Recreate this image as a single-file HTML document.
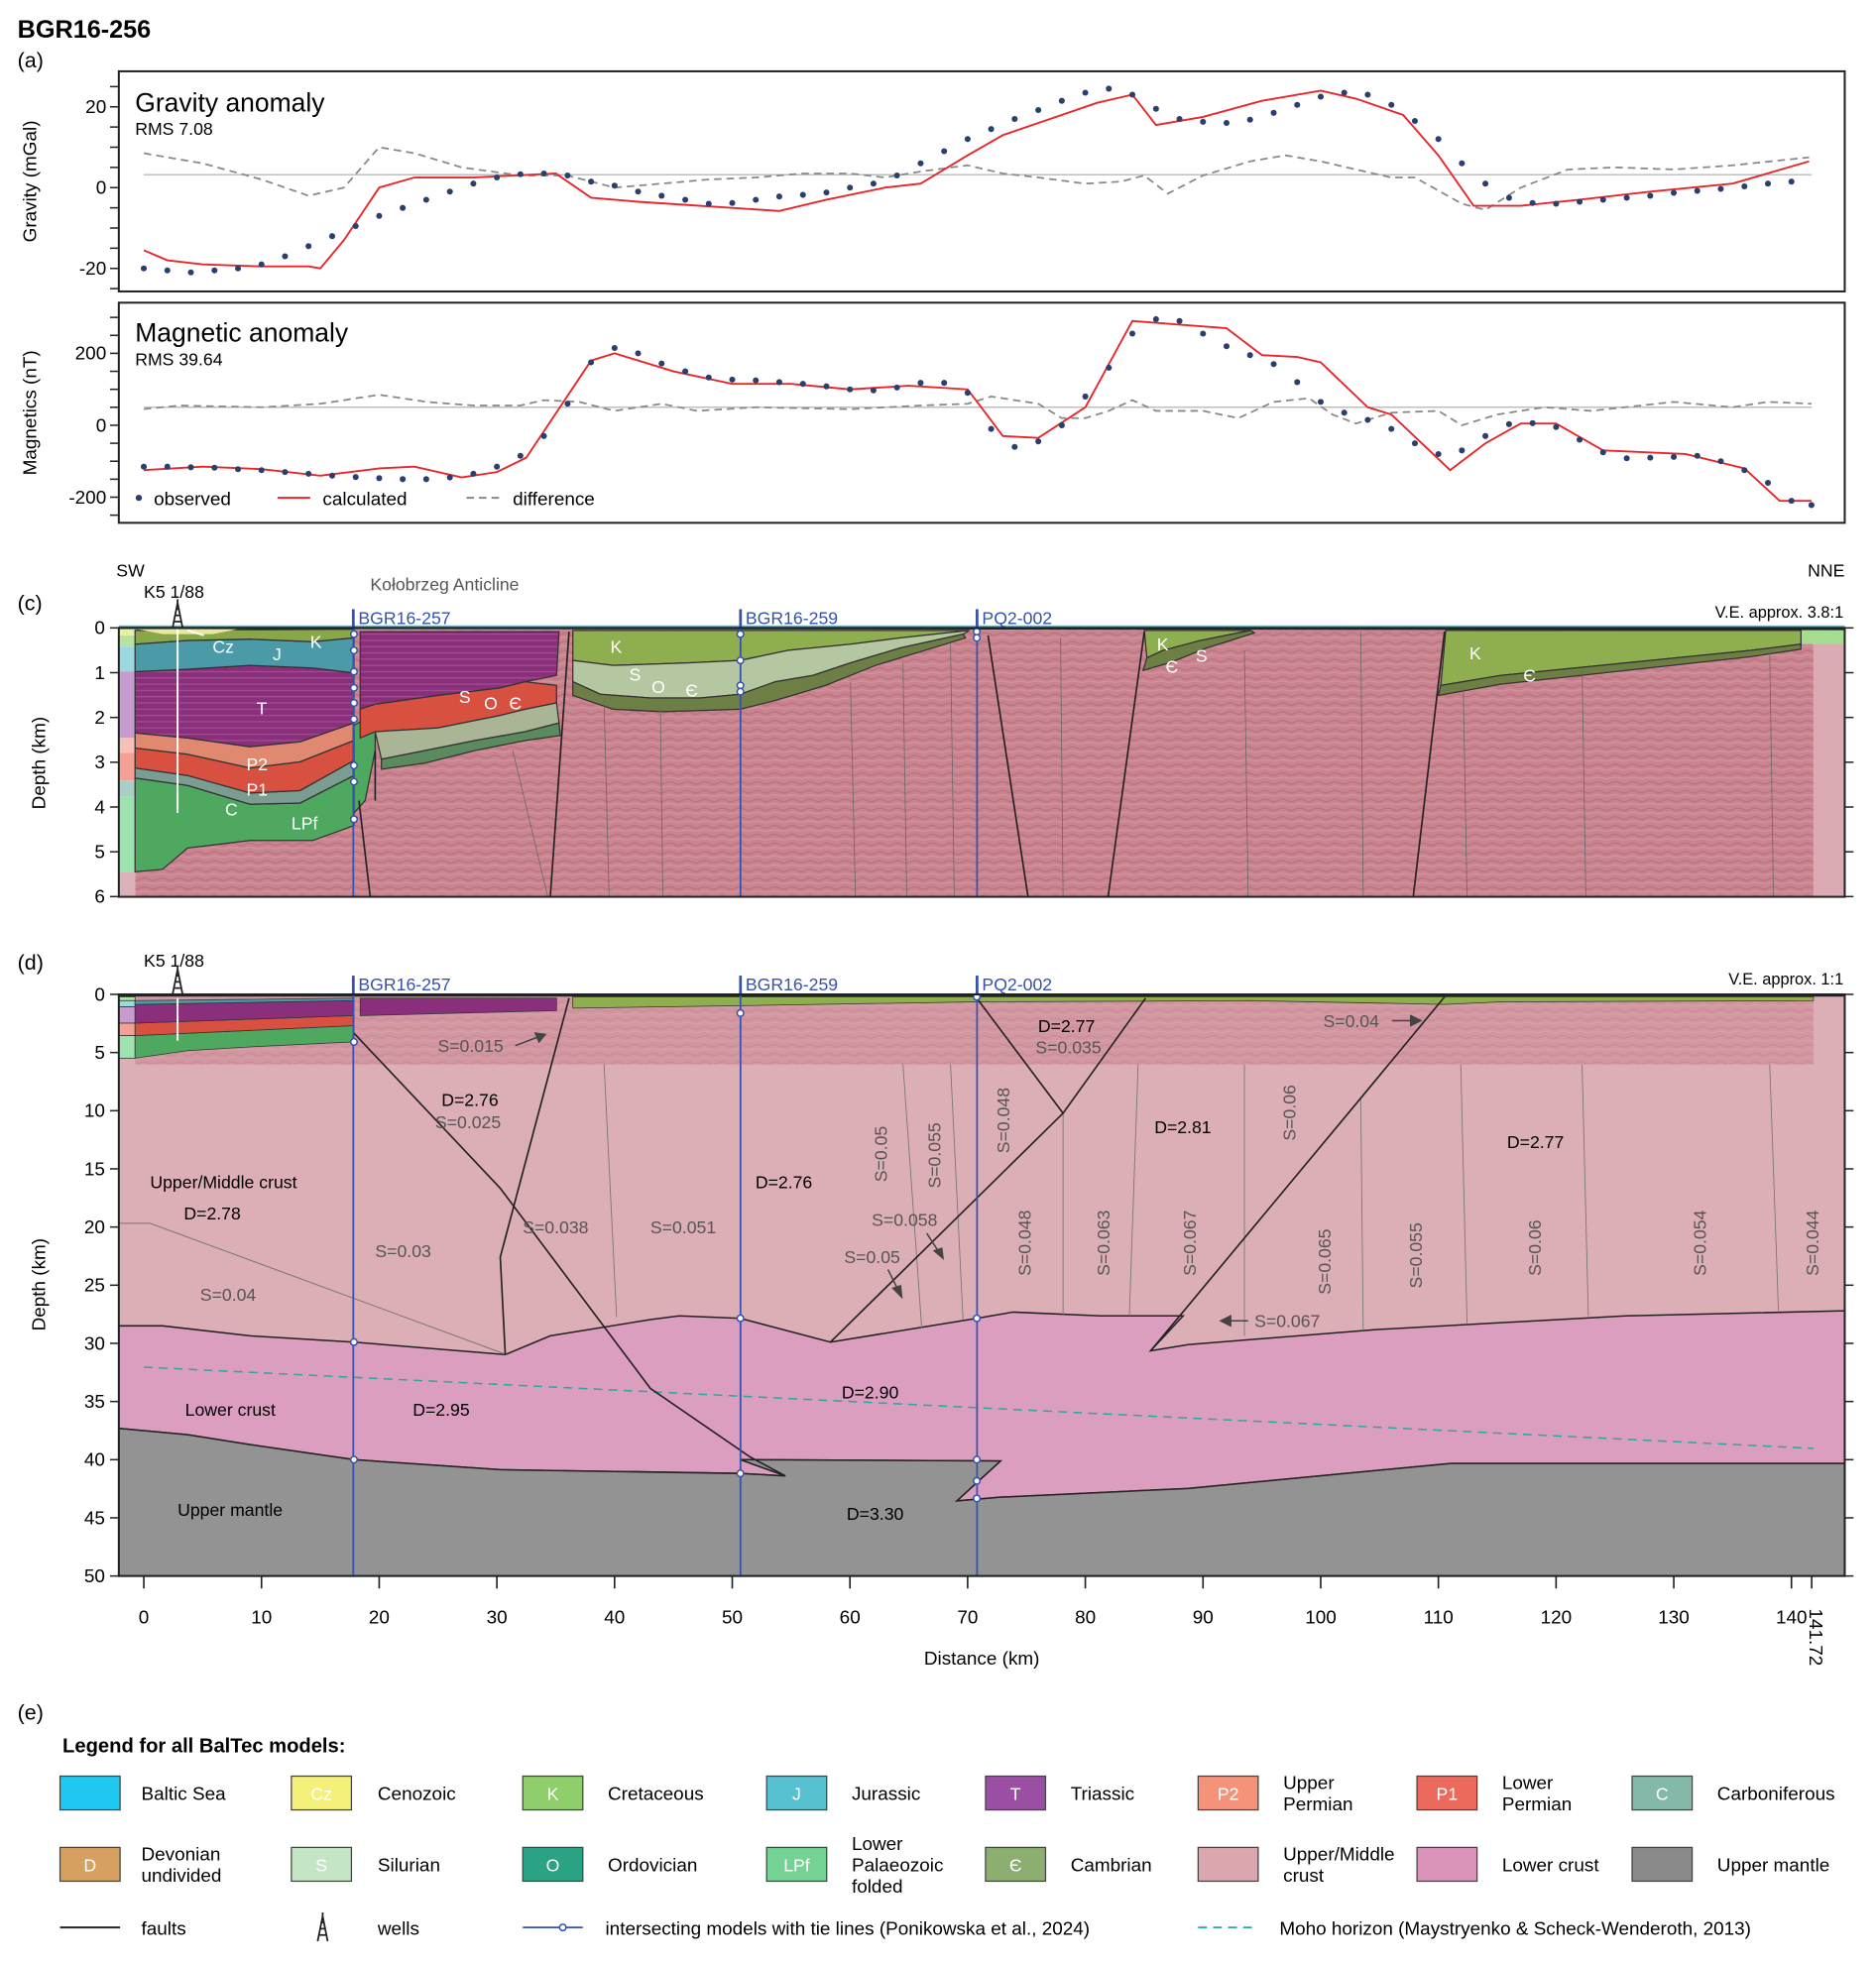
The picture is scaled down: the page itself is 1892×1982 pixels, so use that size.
<!DOCTYPE html>
<html><head><meta charset="utf-8"><title>BGR16-256 model</title>
<style>
html,body{margin:0;padding:0;background:#fff;}
svg{display:block;font-family:"Liberation Sans",Arial,sans-serif;}
</style></head>
<body>
<svg id="fig" xmlns="http://www.w3.org/2000/svg" width="1892" height="1982" viewBox="0 0 1500 1571" preserveAspectRatio="none">
<defs>
<pattern id="seis" width="14" height="7" patternUnits="userSpaceOnUse">
<rect width="14" height="7" fill="#c9848f"/>
<path d="M0 3 Q3.5 1 7 3 T14 3" stroke="#b56a78" stroke-width="1" fill="none" opacity="0.7"/>
<path d="M0 6 Q3.5 5 7 6 T14 6" stroke="#d9a3ad" stroke-width="0.8" fill="none" opacity="0.6"/>
</pattern>
<pattern id="seisT" width="10" height="5" patternUnits="userSpaceOnUse">
<rect width="10" height="5" fill="#8a2f7b"/><path d="M0 2 H10" stroke="#a34d92" stroke-width="1"/>
</pattern>
</defs>

<text x="14" y="30" font-size="20" font-weight="bold">BGR16-256</text>
<text x="14" y="54" font-size="17">(a)</text>

<g id="grav">
<rect x="95" y="57" width="1380" height="176" fill="#fff" stroke="#222" stroke-width="1.6"/>
<text x="108" y="89" font-size="21">Gravity anomaly</text>
<text x="108" y="108" font-size="14">RMS 7.08</text>
<text transform="translate(29,145) rotate(-90)" text-anchor="middle" font-size="15">Gravity (mGal)</text>
</g>
<g id="mag">
<rect x="95" y="242" width="1380" height="176" fill="#fff" stroke="#222" stroke-width="1.6"/>
<text x="108" y="273" font-size="21">Magnetic anomaly</text>
<text x="108" y="292" font-size="14">RMS 39.64</text>
<text transform="translate(29,330) rotate(-90)" text-anchor="middle" font-size="15">Magnetics (nT)</text>
<g>
<circle cx="111" cy="398" r="2.5" fill="#2b3f6e"/>
<text x="123" y="404" font-size="15">observed</text>
<line x1="222" y1="398" x2="248" y2="398" stroke="#e8262a" stroke-width="1.5"/>
<text x="258" y="404" font-size="15">calculated</text>
<line x1="373" y1="398" x2="401" y2="398" stroke="#888" stroke-width="1.5" stroke-dasharray="6,4"/>
<text x="410" y="404" font-size="15">difference</text>
</g>
</g>

<g id="secC">
<text x="14" y="488" font-size="17">(c)</text>
<text x="93" y="461" font-size="14">SW</text>
<text x="1475" y="461" font-size="14" text-anchor="end">NNE</text>
<text x="115" y="478" font-size="14">K5 1/88</text>
<text x="296" y="472" font-size="14" fill="#555">Kołobrzeg Anticline</text>
<text x="1474" y="494" font-size="13" text-anchor="end">V.E. approx. 3.8:1</text>
<rect x="108" y="502" width="1342" height="215" fill="url(#seis)"/>
<rect x="1450" y="502" width="25" height="215" fill="#dcaab2"/>
<rect x="1440" y="502" width="35" height="13" fill="#a5dc8f"/>
<rect x="95" y="500" width="1380" height="3" fill="#3fc4e6"/>
<g>
<rect x="95" y="503" width="13" height="5" fill="#e9f0a0"/><rect x="95" y="508" width="13" height="9" fill="#b5e3a0"/>
<rect x="95" y="517" width="13" height="20" fill="#9bd8e0"/><rect x="95" y="537" width="13" height="53" fill="#c69bd0"/>
<rect x="95" y="590" width="13" height="12" fill="#f8c0b5"/><rect x="95" y="602" width="13" height="22" fill="#f5a095"/>
<rect x="95" y="624" width="13" height="13" fill="#a8cfc5"/><rect x="95" y="637" width="13" height="60" fill="#9ce3b0"/>
<rect x="95" y="697" width="13" height="20" fill="#dcb0b8"/>
</g>
<g stroke="#333" stroke-width="1">
<polygon fill="#4fa860" points="108,622 150,628 200,643 240,642 283,620 283,660 250,672 200,672 150,678 130,695 108,697"/>
<polygon fill="#7b9c90" points="108,614 150,620 200,634 240,632 283,608 283,620 240,642 200,643 150,628 108,622"/>
<polygon fill="#d8503f" points="108,598 150,603 200,614 240,609 283,592 283,608 240,632 200,634 150,620 108,614"/>
<polygon fill="#e08870" points="108,586 150,590 200,597 240,593 283,578 283,592 240,609 200,614 150,603 108,598"/>
<polygon fill="url(#seisT)" points="108,537 150,535 200,532 250,534 283,538 283,578 240,593 200,597 150,590 108,586"/>
<polygon fill="#4a9aa8" points="108,515 150,512 200,511 250,513 283,510 283,538 250,534 200,532 150,535 108,537"/>
<polygon fill="#8aa64a" points="108,504 283,503 283,510 250,513 200,511 150,512 108,515"/>
<polygon fill="#e8e89a" stroke="none" points="110,503 190,503 170,507 130,507"/>
</g>
<g stroke="#333" stroke-width="1">
<polygon fill="#4fa860" points="283,580 300,570 300,600 292,640 283,650"/>
<polygon fill="url(#seisT)" points="288,505 447,505 445,540 420,545 400,550 350,556 300,563 288,567"/>
<polygon fill="#d8503f" points="288,567 300,563 350,556 400,550 420,545 445,548 445,562 420,567 400,572 350,582 300,585 288,590"/>
<polygon fill="#a9b594" points="300,585 350,582 400,572 420,567 445,562 447,578 420,585 380,592 340,600 305,607"/>
<polygon fill="#5b8a5f" points="305,607 340,600 380,592 420,585 447,578 448,588 420,592 380,600 340,610 305,615"/>
</g>
<g stroke="#333" stroke-width="1">
<polygon fill="#8fae50" points="458,504 775,504 720,510 680,515 630,520 592,528 550,530 490,532 458,528"/>
<polygon fill="#b5c7a0" points="458,528 490,532 550,530 592,528 630,520 680,515 720,510 775,504 770,507 720,518 680,530 650,540 620,545 592,555 560,558 520,558 480,555 458,545"/>
<polygon fill="#6e7f45" points="458,545 480,555 520,558 560,558 592,555 620,545 650,540 680,530 720,518 770,507 772,510 700,532 660,548 620,560 592,567 530,569 490,567 458,556"/>
<polygon fill="#8fae50" points="915,504 1000,504 960,512 930,520 917,526"/>
<polygon fill="#6e7f45" points="917,526 930,520 960,512 1000,504 1003,506 965,518 935,530 914,536"/>
<polygon fill="#8fae50" points="1156,504 1440,504 1440,515 1400,520 1300,530 1200,540 1152,548"/>
<polygon fill="#6e7f45" points="1152,548 1200,540 1300,530 1400,520 1440,515 1440,519 1400,525 1300,536 1200,547 1150,556"/>
</g>
<g stroke="#666" stroke-width="0.6">
<line x1="483" y1="560" x2="487" y2="717"/><line x1="528" y1="565" x2="530" y2="717"/><line x1="680" y1="545" x2="684" y2="717"/>
<line x1="722" y1="530" x2="725" y2="717"/><line x1="760" y1="515" x2="763" y2="717"/><line x1="848" y1="510" x2="850" y2="717"/>
<line x1="995" y1="520" x2="998" y2="717"/><line x1="1088" y1="505" x2="1090" y2="717"/><line x1="1170" y1="550" x2="1173" y2="717"/>
<line x1="1265" y1="535" x2="1268" y2="717"/><line x1="1415" y1="520" x2="1418" y2="717"/><line x1="410" y1="600" x2="438" y2="717"/>
</g>
<g stroke="#222" stroke-width="1.3" fill="none">
<line x1="287" y1="640" x2="296" y2="717"/>
<line x1="300" y1="600" x2="300" y2="640"/>
<line x1="455" y1="505" x2="440" y2="717"/>
<line x1="790" y1="508" x2="822" y2="717"/>
<line x1="915" y1="505" x2="886" y2="717"/>
<line x1="1155" y1="505" x2="1130" y2="717"/>
<line x1="95" y1="502" x2="1475" y2="503" stroke-width="1.6"/>
</g>
<g fill="#fff" font-size="14">
<text x="170" y="522">Cz</text><text x="218" y="528">J</text><text x="248" y="518">K</text><text x="205" y="571">T</text>
<text x="197" y="616">P2</text><text x="197" y="636">P1</text><text x="180" y="652">C</text><text x="233" y="663">LPf</text>
<text x="367" y="562">S</text><text x="387" y="567">O</text><text x="407" y="567">Є</text>
<text x="488" y="522">K</text><text x="503" y="544">S</text><text x="521" y="554">O</text><text x="548" y="557">Є</text>
<text x="925" y="520">K</text><text x="932" y="538">Є</text><text x="956" y="529">S</text>
<text x="1175" y="527">K</text><text x="1218" y="545">Є</text>
</g>
<path d="M163 508 L150 504" stroke="#fff" stroke-width="1.5"/>
<line x1="142" y1="503" x2="142" y2="650" stroke="#fff" stroke-width="1.5"/>
</g>

<g id="secD">
<text x="14" y="775" font-size="17">(d)</text>
<text x="115" y="773" font-size="14">K5 1/88</text>
<text x="1474" y="787" font-size="13" text-anchor="end">V.E. approx. 1:1</text>
<rect x="95" y="795" width="1380" height="465" fill="#dcaeb6"/>
<polygon fill="#dc9ebf" stroke="#222" stroke-width="1.2" points="95,1060 130,1060 200,1068 283,1073 404,1083 440,1068 520,1055 543,1052 592,1054 664,1073 781,1054 810,1049 880,1052 946,1052 920,1080 950,1075 1100,1063 1300,1052 1475,1048 1475,1170 1160,1170 950,1190 800,1197 765,1200 800,1168 592,1167 628,1180 592,1178 400,1175 283,1167 200,1155 150,1147 95,1142"/>
<polygon fill="#939393" stroke="#222" stroke-width="1.2" points="95,1142 150,1147 200,1155 283,1167 400,1175 592,1178 628,1180 592,1167 800,1168 765,1200 800,1197 950,1190 1160,1170 1475,1170 1475,1260 95,1260"/>
<rect x="108" y="797" width="1342" height="54" fill="url(#seis)" opacity="0.55"/>
<g stroke="#333" stroke-width="0.6">
<rect x="95" y="797" width="13" height="3" fill="#b5e3a0"/><rect x="95" y="800" width="13" height="5" fill="#9bd8e0"/>
<rect x="95" y="805" width="13" height="13" fill="#c69bd0"/><rect x="95" y="818" width="13" height="10" fill="#f5a095"/>
<rect x="95" y="828" width="13" height="18" fill="#9ce3b0"/>
<polygon fill="#4fa860" points="108,828 283,820 283,833 200,837 150,840 108,846"/>
<polygon fill="#d8503f" points="108,818 283,812 283,820 108,828"/>
<polygon fill="#8a2f7b" points="108,803 283,800 283,812 108,818"/>
<polygon fill="#4a9aa8" points="108,800 283,798 283,800 108,803"/>
<polygon fill="#8a2f7b" points="288,798 445,798 445,808 288,812"/>
<polygon fill="#8fae50" points="458,797 1450,797 1450,800 1200,801 1155,803 1000,800 780,801 592,804 458,806"/>
</g>
<line x1="95" y1="796" x2="1475" y2="796" stroke="#222" stroke-width="1.6"/>
<polyline points="95,978 120,978 405,1083" fill="none" stroke="#777" stroke-width="0.8"/>
<g stroke="#777" stroke-width="0.7">
<line x1="483" y1="851" x2="493" y2="1053"/><line x1="722" y1="851" x2="737" y2="1062"/><line x1="760" y1="851" x2="770" y2="1055"/>
<line x1="850" y1="890" x2="850" y2="1052"/><line x1="910" y1="851" x2="903" y2="1052"/><line x1="995" y1="851" x2="995" y2="1068"/>
<line x1="1088" y1="878" x2="1090" y2="1063"/><line x1="1168" y1="851" x2="1173" y2="1058"/><line x1="1265" y1="851" x2="1270" y2="1052"/>
<line x1="1415" y1="851" x2="1422" y2="1048"/>
</g>
<line x1="115" y1="1093" x2="1450" y2="1158" stroke="#2aa8a0" stroke-width="1.2" stroke-dasharray="7,5"/>
<g stroke="#222" stroke-width="1.3" fill="none">
<polyline points="283,826 400,950 520,1110 600,1165 628,1180"/>
<polyline points="455,798 400,1005 404,1083"/>
<polyline points="781,798 850,890 916,798"/>
<line x1="664" y1="1073" x2="850" y2="890"/>
<polyline points="920,1080 1088,878 1155,797"/>
</g>
<line x1="142" y1="798" x2="142" y2="832" stroke="#fff" stroke-width="1.5"/>
<g font-size="14">
<text x="353" y="884">D=2.76</text><text x="120" y="950">Upper/Middle crust</text><text x="147" y="975">D=2.78</text>
<text x="604" y="950">D=2.76</text><text x="830" y="825">D=2.77</text><text x="923" y="906">D=2.81</text><text x="1205" y="918">D=2.77</text>
<text x="148" y="1132">Lower crust</text><text x="330" y="1132">D=2.95</text><text x="673" y="1118">D=2.90</text>
<text x="142" y="1212">Upper mantle</text><text x="677" y="1215">D=3.30</text>
</g>
<g font-size="14" fill="#555">
<text x="350" y="841">S=0.015</text><text x="348" y="902">S=0.025</text><text x="300" y="1005">S=0.03</text>
<text x="418" y="986">S=0.038</text><text x="520" y="986">S=0.051</text><text x="160" y="1040">S=0.04</text>
<text x="828" y="842">S=0.035</text><text x="1058" y="821">S=0.04</text><text x="697" y="980">S=0.058</text>
<text x="675" y="1010">S=0.05</text><text x="1003" y="1061">S=0.067</text>
<text transform="translate(709,945) rotate(-90)">S=0.05</text>
<text transform="translate(752,950) rotate(-90)">S=0.055</text>
<text transform="translate(807,922) rotate(-90)">S=0.048</text>
<text transform="translate(824,1020) rotate(-90)">S=0.048</text>
<text transform="translate(887,1020) rotate(-90)">S=0.063</text>
<text transform="translate(956,1020) rotate(-90)">S=0.067</text>
<text transform="translate(1036,912) rotate(-90)">S=0.06</text>
<text transform="translate(1064,1035) rotate(-90)">S=0.065</text>
<text transform="translate(1137,1030) rotate(-90)">S=0.055</text>
<text transform="translate(1232,1020) rotate(-90)">S=0.06</text>
<text transform="translate(1364,1020) rotate(-90)">S=0.054</text>
<text transform="translate(1454,1020) rotate(-90)">S=0.044</text>
</g>
<g stroke="#444" stroke-width="1.2" fill="#444">
<line x1="412" y1="836" x2="433" y2="828"/><polygon points="436,827 428,826 431,833"/>
<line x1="1113" y1="816" x2="1133" y2="816"/><polygon points="1136,816 1128,812 1128,820"/>
<line x1="998" y1="1056" x2="980" y2="1056"/><polygon points="976,1056 984,1052 984,1060"/>
<line x1="741" y1="986" x2="752" y2="1003"/><polygon points="754,1006 747,1000 753,998"/>
<line x1="710" y1="1015" x2="719" y2="1033"/><polygon points="721,1037 714,1030 720,1028"/>
</g>
<text x="785" y="1331" font-size="15" text-anchor="middle">Distance (km)</text>
<text transform="translate(1447,1286) rotate(90)" font-size="15">141.72</text>
</g>

<g id="ties"></g>

<g id="legend">
<text x="14" y="1375" font-size="17">(e)</text>
<text x="50" y="1401" font-size="16" font-weight="bold">Legend for all BalTec models:</text>
</g>
<g id="axes"></g>
<g id="plots"></g>
</svg>

<script>
const gravObsDist = [0,2,4,6,8,10,12,14,16,18,20,22,24,26,28,30,32,34,36,38,40,42,44,46,48,50,52,54,56,58,60,62,64,66,68,70,72,74,76,78,80,82,84,86,88,90,92,94,96,98,100,102,104,106,108,110,112,114,116,118,120,122,124,126,128,130,132,134,136,138,140];
const gravObs = [-20,-20.5,-21,-20.5,-20,-19,-17,-14.5,-12,-9.5,-7,-5,-3,-1,1,2.5,3.3,3.5,3,1.5,0.5,-1,-2,-3,-4,-3.8,-3,-2.2,-1.8,-1.2,0,1,3,6,9,12,14.5,17,19.2,21.5,23.5,24.5,23,19.5,17,16.3,16,16.8,18.5,20.5,22.5,23.5,23,20.5,16.5,12,6,1,-2.5,-3.8,-4,-3.5,-3,-2.5,-2,-1.3,-0.8,-0.3,0.3,1,1.5];
const gravCalcDist = [0,2,5,10,14,15,17,20,23,28,35,38,42,50,54,58,63,66,70,73,77,81,84,86,90,95,100,103,107,110,113,117,122,128,135,141.5];
const gravCalc = [-15.5,-18,-19,-19.5,-19.5,-20,-13,0,2.5,2.5,3.5,-2.5,-3.5,-5,-5.8,-3,0,1,8,13,17,21,23,15.5,17.5,21.5,24,22,18,8,-4.5,-4.5,-3,-1,1,6.5];
const gravDiffDist = [0,5,10,14,17,20,23,27,32,36,40,44,48,52,56,60,63,66,70,73,76,80,83,85,87,90,94,97,100,103,106,108,112,114,117,121,125,130,135,141.5];
const gravDiff = [8.5,6,2,-2,0,10,8.5,5,3,3,0,1,2,2.5,3.5,3.5,2.5,4,5.5,3.5,2.5,1,1.5,3,-1.5,3,6.5,8,6.5,4.5,2.5,2.5,-4,-5.5,0,4.5,5,4.5,5.5,7.5];
const gravTicks = [-20,0,20];
const magObsDist = [0,2,4,6,8,10,12,14,16,18,20,22,24,26,28,30,32,34,36,38,40,42,44,46,48,50,52,54,56,58,60,62,64,66,68,70,72,74,76,78,80,82,84,86,88,90,92,94,96,98,100,102,104,106,108,110,112,114,116,118,120,122,124,126,128,130,132,134,136,138,140,141.7];
const magObs = [-115,-115,-117,-118,-122,-125,-130,-135,-140,-144,-147,-150,-150,-145,-135,-115,-85,-30,60,175,215,200,172,150,133,127,125,120,115,108,100,97,105,118,118,90,-10,-60,-45,0,80,160,255,295,290,255,220,195,170,120,65,35,15,-10,-50,-80,-70,-30,3,6,-5,-40,-75,-92,-90,-88,-85,-100,-125,-160,-210,-222];
const magCalcDist = [0,5,10,15,20,23,27,30,32.5,38,40,45,50,55,60,65,70,73,76,80,84,88,92,95,98,100,104,106,111,114,117,120,124,131,136,139,141.7];
const magCalc = [-125,-115,-122,-140,-120,-115,-145,-130,-90,180,200,150,115,115,100,110,100,-30,-35,50,290,280,270,195,190,175,50,30,-125,-50,5,5,-70,-80,-120,-210,-210];
const magDiffDist = [0,3,10,15,20,24,28,32,34,37,40,44,47,52,60,66,70,72,76,78,80,82,84,86,90,93,96,99,101,103,106,110,112,115,119,123,130,135,138,141.7];
const magDiff = [45,55,50,60,85,65,55,55,70,65,40,60,40,50,45,55,60,80,60,20,20,40,70,40,40,20,65,75,30,5,35,40,0,30,50,40,65,50,65,60];
const magTicks = [-200,0,200];
const distTicks = [0,10,20,30,40,50,60,70,80,90,100,110,120,130,140];
const depthTicksC = [0,1,2,3,4,5,6];
const depthTicksD = [0,5,10,15,20,25,30,35,40,45,50];
const tieNames = ['BGR16-257','BGR16-259','PQ2-002'];
const tieDist = [17.8,50.7,70.8];

const NS='http://www.w3.org/2000/svg';
function mk(tag, attrs, parent){const e=document.createElementNS(NS,tag);for(const k in attrs)e.setAttribute(k,attrs[k]);parent.appendChild(e);return e;}
const X = d => 115 + d*9.41;
const GY = v => 150 - v*3.23;
const MY = v => 340 - v*0.2875;
const CY = d => 502 + d*35.8;
const DY = d => 795 + d*9.3;
const plots=document.getElementById('plots'), axes=document.getElementById('axes');

function line(dist, vals, yf, attrs, name){
  const p=mk('polyline', Object.assign({points: dist.map((d,i)=>X(d).toFixed(1)+','+yf(vals[i]).toFixed(1)).join(' '), fill:'none'}, attrs), plots);
  
  
}
function dots(dist, vals, yf, name){
  dist.forEach((d,i)=>{const c=mk('circle',{cx:X(d).toFixed(1),cy:yf(vals[i]).toFixed(1),r:2.4,fill:'#2b3f6e'},plots);
    
    });
}
let r1=mk('line',{x1:X(0),x2:X(141.72),y1:GY(3.2),y2:GY(3.2),stroke:'#aaa','stroke-width':0.9},plots);


let r2=mk('line',{x1:X(0),x2:X(141.72),y1:MY(50),y2:MY(50),stroke:'#aaa','stroke-width':0.9},plots);


line(gravDiffDist, gravDiff, GY, {stroke:'#888','stroke-width':1.4,'stroke-dasharray':'6,4'}, 'gravity-difference-line');
line(gravCalcDist, gravCalc, GY, {stroke:'#e8262a','stroke-width':1.5}, 'gravity-calculated-line');
dots(gravObsDist, gravObs, GY, 'gravity-observed-point');
line(magDiffDist, magDiff, MY, {stroke:'#888','stroke-width':1.4,'stroke-dasharray':'6,4'}, 'magnetic-difference-line');
line(magCalcDist, magCalc, MY, {stroke:'#e8262a','stroke-width':1.5}, 'magnetic-calculated-line');
dots(magObsDist, magObs, MY, 'magnetic-observed-point');

for(let v=-25; v<=25; v+=5){const t=mk('line',{x1:88,x2:95,y1:GY(v),y2:GY(v),stroke:'#222','stroke-width':1.2},axes);
  
  }
gravTicks.forEach(v=>{const t=mk('text',{x:85,y:GY(v)+5,'text-anchor':'end','font-size':15},axes);t.textContent=v;
  
  });
for(let v=-250; v<=300; v+=50){const t=mk('line',{x1:88,x2:95,y1:MY(v),y2:MY(v),stroke:'#222','stroke-width':1.2},axes);
  
  }
magTicks.forEach(v=>{const t=mk('text',{x:85,y:MY(v)+5,'text-anchor':'end','font-size':15},axes);t.textContent=v;
  
  });
let ac=mk('rect',{x:95,y:502,width:1380,height:215,fill:'none',stroke:'#222','stroke-width':1.6},axes);


depthTicksC.forEach(v=>{mk('line',{x1:88,x2:95,y1:CY(v),y2:CY(v),stroke:'#222','stroke-width':1.2},axes);
  mk('line',{x1:1475,x2:1482,y1:CY(v),y2:CY(v),stroke:'#222','stroke-width':1.2},axes);
  const t=mk('text',{x:84,y:CY(v)+5,'text-anchor':'end','font-size':15},axes);t.textContent=v;
  
  });
let tc=mk('text',{transform:'translate(36,610) rotate(-90)','text-anchor':'middle','font-size':15},axes);tc.textContent='Depth (km)';


let ad=mk('rect',{x:95,y:795,width:1380,height:465,fill:'none',stroke:'#222','stroke-width':1.6},axes);


depthTicksD.forEach(v=>{mk('line',{x1:88,x2:95,y1:DY(v),y2:DY(v),stroke:'#222','stroke-width':1.2},axes);
  mk('line',{x1:1475,x2:1482,y1:DY(v),y2:DY(v),stroke:'#222','stroke-width':1.2},axes);
  const t=mk('text',{x:84,y:DY(v)+5,'text-anchor':'end','font-size':15},axes);t.textContent=v;
  
  });
let td=mk('text',{transform:'translate(36,1027) rotate(-90)','text-anchor':'middle','font-size':15},axes);td.textContent='Depth (km)';


distTicks.forEach(v=>{mk('line',{x1:X(v),x2:X(v),y1:1260,y2:1270,stroke:'#222','stroke-width':1.3},axes);
  const t=mk('text',{x:X(v),y:1298,'text-anchor':'middle','font-size':15},axes);t.textContent=v;
  
  });
mk('line',{x1:X(141.72),x2:X(141.72),y1:1260,y2:1270,stroke:'#222','stroke-width':1.3},axes);

const ties=document.getElementById('ties');
tieNames.forEach((n,i)=>{
  const x=X(tieDist[i]);
  [[502,717,487],[795,1260,780]].forEach(([a,b,top])=>{
    const l=mk('line',{x1:x,x2:x,y1:a,y2:b,stroke:'#3552b0','stroke-width':1.4},ties);
    
    
    mk('line',{x1:x,x2:x,y1:top,y2:a,stroke:'#3552b0','stroke-width':2.2},ties);
    const t=mk('text',{x:x+4,y:top+12,'font-size':14,fill:'#3552b0'},ties);t.textContent=n;
    
    
  });
});
[[283,507],[283,520],[283,537],[283,550],[283,562],[283,575],[283,612],[283,625],[283,655],[592,507],[592,528],[592,548],[592,553],[781,505],[781,510],
 [283,833],[283,1073],[283,1167],[592,810],[592,1054],[592,1178],[781,797],[781,1054],[781,1167],[781,1184],[781,1198]].forEach(p=>{
  const c=mk('circle',{cx:p[0],cy:p[1],r:2.6,fill:'#fff',stroke:'#3552b0','stroke-width':1.2},ties);
  
  
});
function well(x,y){const g=mk('path',{d:`M${x-4} ${y} L${x} ${y-20} L${x+4} ${y} M${x-3} ${y-5} H${x+3} M${x-2} ${y-10} H${x+2} M${x-1.5} ${y-15} H${x+1.5} M${x} ${y-20} V${y-23}`,stroke:'#222','stroke-width':1.4,fill:'none'},ties);
  
  }
well(142,502); well(142,795); well(258,1552);

const lg=document.getElementById('legend');
const swCols=[48,233,418,613,788,958,1133,1305];
const row1=[['#1ec8f0','','Baltic Sea'],['#f5f07a','Cz','Cenozoic'],['#8fcf6b','K','Cretaceous'],['#58c1d1','J','Jurassic'],['#9a4ea4','T','Triassic'],['#f5937a','P2','Upper|Permian'],['#ec6a5c','P1','Lower|Permian'],['#84b9a9','C','Carboniferous']];
const row2=[['#d6a061','D','Devonian|undivided'],['#c4e6c4','S','Silurian'],['#2aa384','O','Ordovician'],['#74d295','LPf','Lower|Palaeozoic|folded'],['#8cae70','Є','Cambrian'],['#dba6ae','','Upper/Middle|crust'],['#da93b9','','Lower crust'],['#8a8a8a','','Upper mantle']];
[[row1,1420],[row2,1477]].forEach(([row,y])=>{
  row.forEach((it,i)=>{
    const x=swCols[i];
    const r=mk('rect',{x:x,y:y,width:48,height:27,fill:it[0],stroke:'#444','stroke-width':1},lg);
    
    
    if(it[1]){const t=mk('text',{x:x+24,y:y+19,'text-anchor':'middle','font-size':14,fill:'#fff'},lg);t.textContent=it[1];}
    const lines=it[2].split('|');
    const t0=y+14-(lines.length-1)*8.5+5;
    lines.forEach((s,j)=>{const t=mk('text',{x:x+(i==1?69:i==0?65:68),y:t0+j*17,'font-size':15},lg);t.textContent=s;
      
      });
  });
});
mk('line',{x1:48,x2:96,y1:1541,y2:1541,stroke:'#222','stroke-width':1.6},lg);
let t1=mk('text',{x:113,y:1547,'font-size':15},lg);t1.textContent='faults';
let t2=mk('text',{x:302,y:1547,'font-size':15},lg);t2.textContent='wells';
mk('line',{x1:418,x2:466,y1:1541,y2:1541,stroke:'#3552b0','stroke-width':1.4},lg);
mk('circle',{cx:450,cy:1541,r:2.6,fill:'#fff',stroke:'#3552b0','stroke-width':1.2},lg);
let t3=mk('text',{x:484,y:1547,'font-size':15},lg);t3.textContent='intersecting models with tie lines (Ponikowska et al., 2024)';
mk('line',{x1:958,x2:1006,y1:1541,y2:1541,stroke:'#2aa8a0','stroke-width':1.4,'stroke-dasharray':'7,5'},lg);
let t4=mk('text',{x:1023,y:1547,'font-size':15},lg);t4.textContent='Moho horizon (Maystryenko & Scheck-Wenderoth, 2013)';
[t1,t2,t3,t4].forEach(t=>{});
</script>
</body></html>
